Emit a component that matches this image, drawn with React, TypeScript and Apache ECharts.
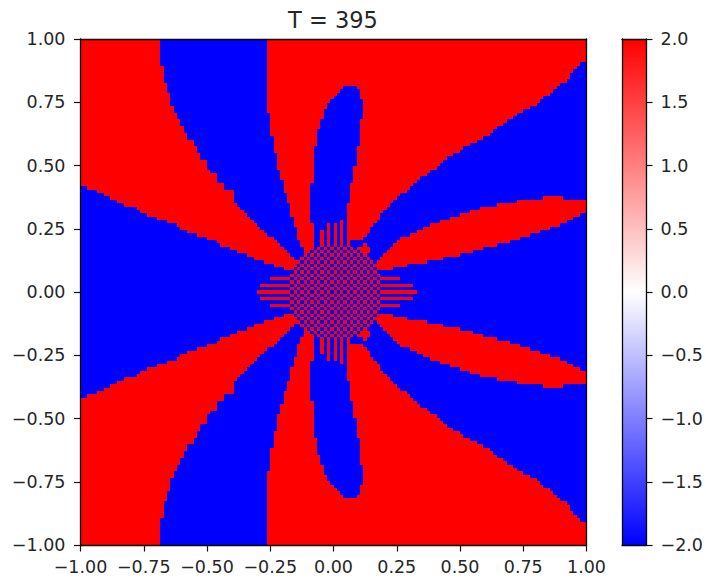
import React, { useEffect, useRef } from "react";
import * as echarts from "echarts";

const titleText = "T = 395";
const COLS = 152;
const ROWS = 151;
const HIGH = 2;
const LOW = -2;
const colorbarRange = [-2, 2];

// All lists below: column index per row of the upper half (row 0 = top).
// Rows 0..68: right end of the red region touching the left edge
const leftRedEnd = [24,24,24,24,24,24,24,24,25,25,25,25,25,26,26,26,27,27,27,27,28,28,29,29,30,30,31,31,32,32,34,34,35,35,36,36,38,38,38,39,41,41,41,43,43,46,46,46,46,47,48,49,50,51,52,53,54,55,56,58,59,60,61,62,63,64,65,66,66];
// Rows 44..68: left start of the same red region
const leftRedStart = [2,5,7,9,11,13,17,18,20,23,26,29,30,32,35,38,41,42,45,47,50,52,55,58,61];
// Rows 0..65: start of the central red wedge
const midRedStart = [56,56,56,56,56,56,56,56,56,56,56,56,56,56,56,56,56,56,56,56,56,56,57,57,57,57,57,57,57,58,58,58,58,58,59,59,59,59,59,60,60,60,61,61,61,61,62,62,62,63,63,63,63,64,64,64,65,65,65,65,66,66,67,67,67,67];
// Rows 14..65: start of the blue finger
const fingerStart = [79,78,77,76,75,74,74,73,73,73,72,72,72,71,71,71,71,71,70,70,70,70,70,70,70,70,70,70,70,69,69,69,69,69,69,69,69,69,69,69,69,70,70,70,70,70,70,70,70,70,70,70];
// Rows 14..61: end of the blue finger
const fingerEnd = [83,84,84,84,85,85,85,85,85,85,84,84,84,84,84,84,84,84,83,83,83,83,83,83,82,82,82,82,82,81,81,81,81,81,81,80,80,80,80,80,80,80,80,80,80,80,80,80];
// Rows 7..61: end of the large red area in the upper right
const upperRedEnd = [150,149,148,147,147,146,144,143,142,141,139,138,137,135,133,131,130,128,127,125,124,123,121,119,117,115,114,112,110,109,108,107,105,104,102,101,100,99,98,96,95,94,93,92,91,90,90,89,88,87,87,86,85,81,81];
// Rows 47..68: red strip on the right
const stripStart = [139,131,125,120,117,114,111,108,105,103,101,99,96,95,94,93,92,91,90,89,88,88];
const stripEnd = [145,152,152,152,152,150,148,146,144,141,138,135,132,129,125,121,118,114,109,104,98,94];
// Rows 62..75: extent of the checker disc
const discStart = [70,69,67,66,65,65,64,64,63,63,63,63,63,63];
const discEnd = [84,85,86,87,88,89,89,90,90,91,91,91,91,91];
// [row, start, end] red whiskers left and right of the disc
const leftSpokes = [[71,57,63],[73,54,63],[75,53,63]];
const rightSpokes = [[71,91,96],[73,91,100],[75,91,101]];
// [column, first row] red whiskers above the disc
const topSpokes = [[72,57],[74,55],[76,55],[78,54]];
// [row, start, end] small red cross at the upper right of the disc
const crossCells = [[61,85,86],[62,84,87],[63,85,87],[64,85,86]];

function buildGrid(): number[][] {
  const grid: number[][] = [];
  for (let r = 0; r <= 75; r++) {
    const row = new Array(COLS).fill(LOW);
    const paint = (a: number, b: number, v = HIGH) => {
      for (let c = a; c < b; c++) row[c] = v;
    };
    if (r < leftRedEnd.length) paint(r >= 44 ? leftRedStart[r - 44] : 0, leftRedEnd[r]);
    if (r < midRedStart.length) {
      if (r < 14) {
        paint(midRedStart[r], r < 7 ? COLS : upperRedEnd[r - 7]);
      } else {
        paint(midRedStart[r], fingerStart[r - 14]);
        if (r <= 61) paint(fingerEnd[r - 14], upperRedEnd[r - 7]);
      }
    }
    if (r >= 47 && r <= 68) paint(stripStart[r - 47], stripEnd[r - 47]);
    for (const [sc, first] of topSpokes) if (r >= first && r <= 61) row[sc] = HIGH;
    if (r >= 62) {
      const a = discStart[r - 62];
      const b = discEnd[r - 62];
      for (let c = a; c < b; c++) row[c] = (r + c) % 2 === 1 ? HIGH : LOW;
    }
    for (const [sr, a, b] of leftSpokes) if (sr === r) paint(a, b);
    for (const [sr, a, b] of rightSpokes) if (sr === r) paint(a, b);
    for (const [sr, a, b] of crossCells) if (sr === r) paint(a, b);
    grid.push(row);
  }
  for (let r = 76; r < ROWS; r++) grid.push(grid[150 - r]);
  return grid;
}

function buildRuns(grid: number[][]): number[][] {
  const toX = (c: number) => -1 + (2 * c) / COLS;
  const toY = (r: number) => 1 - (2 * r) / ROWS;
  const runs: number[][] = [];
  grid.forEach((row, r) => {
    let s = 0;
    for (let c = 1; c <= COLS; c++) {
      if (c === COLS || row[c] !== row[s]) {
        runs.push([toX(s), toX(c), toY(r), toY(r + 1), row[s]]);
        s = c;
      }
    }
  });
  return runs;
}

const FONT = "DejaVu Sans";
const tickFmt = (d: number) => (v: number) => v.toFixed(d).replace("-", "\u2212");

export default function App() {
  const ref = useRef<HTMLDivElement>(null);
  useEffect(() => {
    document.body.style.margin = "0";
    document.body.style.background = "#fff";
    const chart = echarts.init(ref.current!, undefined, { renderer: "svg" });
    const runs = buildRuns(buildGrid());
    const axisLine = { show: true, onZero: false, lineStyle: { color: "#000", width: 1.3 } };
    const axisTick = { show: true, length: 6.5, lineStyle: { color: "#111", width: 1.2 } };
    const label = { color: "#262626", fontFamily: FONT, fontSize: 17.5 };
    const hidden = { axisTick: { show: false }, axisLabel: { show: false }, splitLine: { show: false } };
    chart.setOption({
      animation: false,
      backgroundColor: "#fff",
      title: {
        text: titleText,
        left: 288,
        top: 8,
        textStyle: { fontFamily: FONT, fontSize: 22.5, fontWeight: "normal", color: "#262626" },
        padding: 0,
      },
      grid: [
        { left: 80.5, top: 39, width: 506, height: 506 },
        { left: 622, top: 39, width: 25, height: 506 },
      ],
      xAxis: [
        { type: "value", gridIndex: 0, min: -1, max: 1, interval: 0.25, z: 10, axisLine, axisTick, splitLine: { show: false }, axisLabel: { ...label, margin: 13, formatter: tickFmt(2) } },
        { type: "value", gridIndex: 0, position: "top", min: -1, max: 1, interval: 0.25, z: 10, axisLine, ...hidden },
        { type: "value", gridIndex: 1, min: 0, max: 1, z: 10, axisLine, ...hidden },
        { type: "value", gridIndex: 1, position: "top", min: 0, max: 1, z: 10, axisLine, ...hidden },
      ],
      yAxis: [
        { type: "value", gridIndex: 0, min: -1, max: 1, interval: 0.25, z: 10, axisLine, axisTick, splitLine: { show: false }, axisLabel: { ...label, margin: 15, formatter: tickFmt(2) } },
        { type: "value", gridIndex: 0, position: "right", min: -1, max: 1, interval: 0.25, z: 10, axisLine, ...hidden },
        { type: "value", gridIndex: 1, position: "left", min: -2, max: 2, interval: 0.5, z: 10, axisLine, ...hidden },
        { type: "value", gridIndex: 1, position: "right", min: -2, max: 2, interval: 0.5, z: 10, axisLine, axisTick, splitLine: { show: false }, axisLabel: { ...label, margin: 14.5, formatter: tickFmt(1) } },
      ],
      series: [
        {
          type: "custom",
          xAxisIndex: 0,
          yAxisIndex: 0,
          coordinateSystem: "cartesian2d",
          data: runs,
          encode: { x: [0, 1], y: [2, 3] },
          silent: true,
          renderItem: (_p: any, api: any) => {
            const a = api.coord([api.value(0), api.value(2)]);
            const b = api.coord([api.value(1), api.value(3)]);
            const x = Math.round(a[0]);
            const y = Math.round(a[1]);
            return {
              type: "rect",
              shape: { x, y, width: Math.round(b[0]) - x, height: Math.round(b[1]) - y },
              style: { fill: api.value(4) > 0 ? "#ff0000" : "#0000ff" },
            };
          },
        },
        {
          type: "custom",
          xAxisIndex: 2,
          yAxisIndex: 3,
          coordinateSystem: "cartesian2d",
          data: [[0, 1, colorbarRange[0], colorbarRange[1]]],
          encode: { x: [0, 1], y: [2, 3] },
          silent: true,
          renderItem: (_p: any, api: any) => {
            const a = api.coord([api.value(0), api.value(3)]);
            const b = api.coord([api.value(1), api.value(2)]);
            return {
              type: "rect",
              shape: { x: a[0], y: a[1], width: b[0] - a[0], height: b[1] - a[1] },
              style: {
                fill: new echarts.graphic.LinearGradient(0, 0, 0, 1, [
                  { offset: 0, color: "#ff0000" },
                  { offset: 0.5, color: "#ffffff" },
                  { offset: 1, color: "#0000ff" },
                ]),
              },
            };
          },
        },
      ],
    });
    return () => chart.dispose();
  }, []);
  return <div ref={ref} style={{ width: 706, height: 579 }} />;
}
